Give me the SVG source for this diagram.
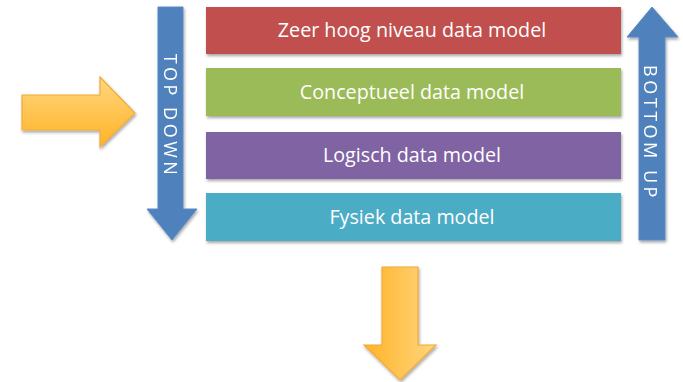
<svg xmlns="http://www.w3.org/2000/svg" width="683" height="382" viewBox="0 0 683 382">
<style>
.bar{filter:url(#sh)}
.lbl{font-family:"Open Sans","Liberation Sans",Arial,sans-serif;font-size:19.7px;fill:#fff;text-anchor:middle}
.vl{font-family:"Open Sans","Liberation Sans",Arial,sans-serif;font-size:18px;fill:#fff;text-anchor:middle;letter-spacing:3.5px}
.blue{fill:#4F81BD;stroke:#5A8AC6;stroke-width:1}
.org{stroke:#F2A93B;stroke-width:1.2}
</style>
<defs>
<filter id="sh" x="-5%" y="-20%" width="110%" height="150%">
<feDropShadow dx="1" dy="2" stdDeviation="1.5" flood-color="#000" flood-opacity="0.35"/>
</filter>
<linearGradient id="gv" x1="0" y1="0" x2="0" y2="1">
<stop offset="0" stop-color="#FFD67E"/>
<stop offset="1" stop-color="#FFB327"/>
</linearGradient>
<linearGradient id="gh" x1="0" y1="0" x2="1" y2="0">
<stop offset="0" stop-color="#FFB327"/>
<stop offset="1" stop-color="#FFD67E"/>
</linearGradient>
</defs>
<g id="connectors">
<g id="arrow-in" class="bar"><polygon class="org" fill="url(#gv)" points="22,95 100,95 100,77 135,113 100,147 100,130 22,130"/></g>
<g id="arrow-out" class="bar"><polygon class="org" fill="url(#gh)" points="382,267 418,267 418,345 436,345 400,380 364,345 382,345"/></g>
</g>
<g id="topdown" class="bar">
<polygon class="blue" points="158,7 183,7 183,209 197,209 172,240 147,209 158,209"/>
<text class="vl" transform="translate(164,116) rotate(90)">TOP DOWN</text>
</g>
<g id="bottomup" class="bar">
<polygon class="blue" points="652,7 678,37 665,37 665,240 639,240 639,37 627,37"/>
<text class="vl" transform="translate(644,133) rotate(90)">BOTTOM UP</text>
</g>
<g id="n1"><rect class="bar" x="206" y="7" width="415" height="47" fill="#C0504D"/><text class="lbl" x="412" y="37">Zeer hoog niveau data model</text></g>
<g id="n2"><rect class="bar" x="206" y="68" width="415" height="48" fill="#9BBB59"/><text class="lbl" x="412" y="99">Conceptueel data model</text></g>
<g id="n3"><rect class="bar" x="206" y="132" width="415" height="47" fill="#8064A2"/><text class="lbl" x="412" y="162">Logisch data model</text></g>
<g id="n4"><rect class="bar" x="206" y="193" width="415" height="48" fill="#4BACC6"/><text class="lbl" x="412" y="224">Fysiek data model</text></g>
</svg>
